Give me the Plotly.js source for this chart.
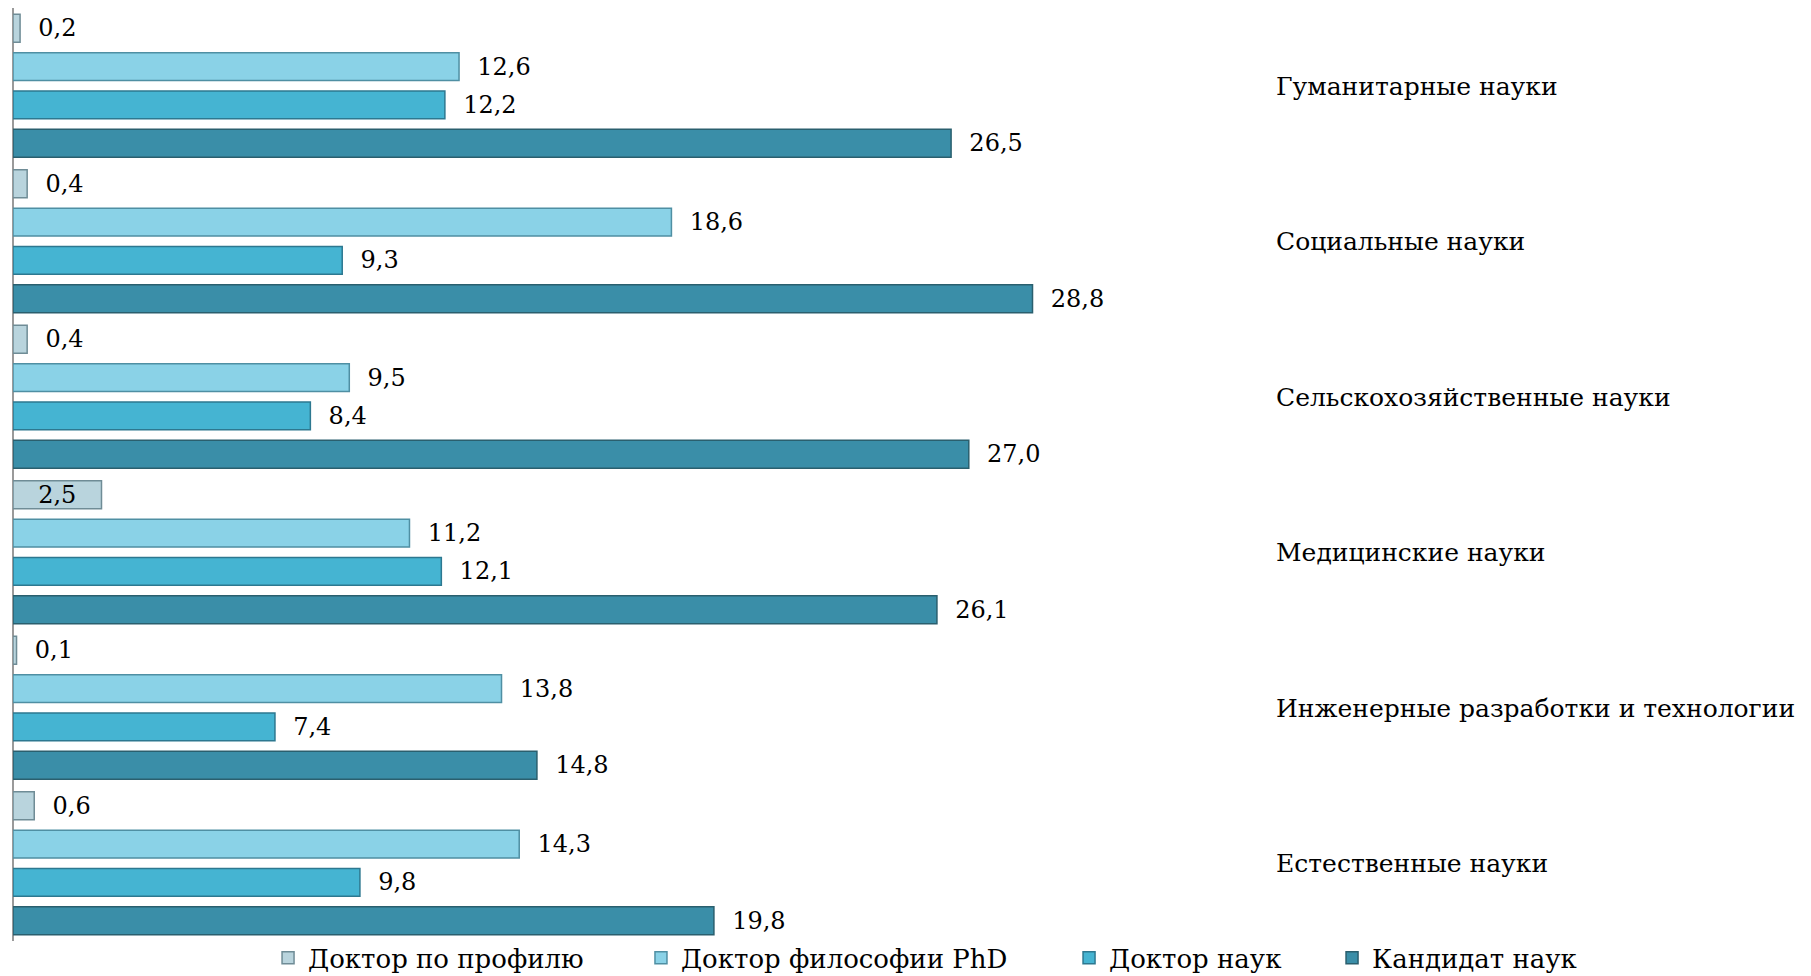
<!DOCTYPE html>
<html>
<head>
<meta charset="utf-8">
<script src="https://cdn.plot.ly/plotly-3.0.1.min.js"></script>
<style>html,body{margin:0;padding:0;background:#fff;}#chart{width:1811px;height:976px;}</style>
</head>
<body>
<div id="chart"></div>
<script>
// Categories, bottom to top as Plotly draws them
const categories = [
  'Естественные науки',
  'Инженерные разработки и технологии',
  'Медицинские науки',
  'Сельскохозяйственные науки',
  'Социальные науки',
  'Гуманитарные науки'
];
const seriesNames = ['Кандидат наук', 'Доктор наук', 'Доктор философии PhD', 'Доктор по профилю'];
const kandidatNauk   = [19.8, 14.8, 26.1, 27.0, 28.8, 26.5];
const doktorNauk     = [9.8, 7.4, 12.1, 8.4, 9.3, 12.2];
const doktorPhD      = [14.3, 13.8, 11.2, 9.5, 18.6, 12.6];
const doktorProfil   = [0.6, 0.1, 2.5, 0.4, 0.4, 0.2];

const seriesValues = [kandidatNauk, doktorNauk, doktorPhD, doktorProfil];
const colors = ['#3a8ea8', '#45b4d2', '#8ad2e7', '#b9d4dd'];
const lineColors = ['#2a5f6e', '#2d7890', '#4f8fa3', '#6f8c96'];
const legendIds = ['legend4', 'legend3', 'legend2', 'legend'];
const legendX = [1.0452, 0.8368, 0.4976, 0.2021];

const FONT = 'DejaVu Serif, serif';

function fmt(v) { return v.toFixed(1).replace('.', ','); }

const traces = seriesValues.map((vals, i) => {
  const isProfil = i === 3;
  const positions = vals.map(v => (isProfil && v > 2) ? 'inside' : 'outside');
  const texts = vals.map((v, j) => positions[j] === 'inside' ? fmt(v) : '\u00a0\u00a0' + fmt(v));
  return {
    type: 'bar',
    orientation: 'h',
    name: seriesNames[i],
    legend: legendIds[i],
    y: categories,
    x: vals,
    text: texts,
    textposition: positions,
    insidetextanchor: 'middle',
    constraintext: 'none',
    cliponaxis: false,
    textfont: {family: FONT, size: 24, color: '#000'},
    insidetextfont: {family: FONT, size: 24, color: '#000'},
    outsidetextfont: {family: FONT, size: 24, color: '#000'},
    marker: {color: colors[i], line: {color: lineColors[i], width: 1.5}},
    hoverinfo: 'x+name'
  };
});

const layout = {
  width: 1811,
  height: 976,
  margin: {l: 13, r: 536, t: 8, b: 35, autoexpand: false},
  paper_bgcolor: '#fff',
  plot_bgcolor: '#fff',
  barmode: 'group',
  bargap: 0.015,
  bargroupgap: 0.27,
  showlegend: true,
  separators: ', ',
  xaxis: {
    range: [0, 35.65],
    showgrid: false,
    showticklabels: false,
    ticks: '',
    zeroline: true,
    zerolinecolor: '#9a9a9a',
    zerolinewidth: 2,
    showline: false,
    fixedrange: true
  },
  yaxis: {
    type: 'category',
    side: 'right',
    showgrid: false,
    showline: false,
    zeroline: false,
    ticks: '',
    ticklabelstandoff: 0,
    tickfont: {family: FONT, size: 25, color: '#000'},
    fixedrange: true
  }
};

legendIds.forEach((id, i) => {
  layout[id] = {
    orientation: 'h',
    x: legendX[i],
    xanchor: 'left',
    y: -0.018,
    yanchor: 'middle',
    font: {family: FONT, size: 26, color: '#000'},
    itemwidth: 30,
    bgcolor: 'rgba(0,0,0,0)'
  };
});

Plotly.newPlot('chart', traces, layout, {displayModeBar: false, staticPlot: true});
</script>
</body>
</html>
